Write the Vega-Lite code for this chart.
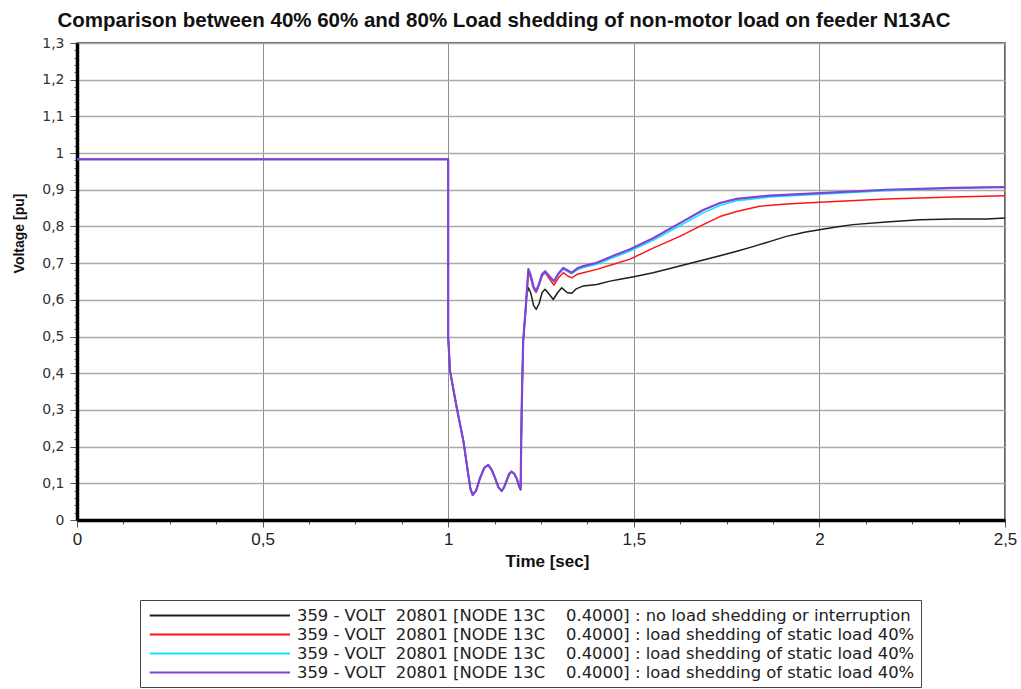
{
  "$schema": "https://vega.github.io/schema/vega-lite/v6.json",
  "autosize": {"type": "none"},
  "padding": {"left": 77, "top": 43, "right": 16, "bottom": 169},
  "width": 928,
  "height": 477,
  "background": "white",
  "title": {
    "text": "Comparison between 40% 60% and 80% Load shedding of non-motor load on feeder N13AC",
    "font": "Liberation Sans",
    "fontSize": 20.5,
    "fontWeight": "bold",
    "color": "#111",
    "anchor": "middle",
    "dx": -37,
    "dy": 27,
    "baseline": "alphabetic",
    "offset": 16
  },
  "config": {
    "view": {"stroke": "#333", "strokeWidth": 1.5},
    "font": "Liberation Sans"
  },
  "data": {
    "values": [
      {"s": "a", "t": 0, "v": 0.983}, {"s": "a", "t": 1.0, "v": 0.983}, {"s": "a", "t": 1.0, "v": 0.497},
      {"s": "a", "t": 1.005, "v": 0.406}, {"s": "a", "t": 1.023, "v": 0.306}, {"s": "a", "t": 1.041, "v": 0.215},
      {"s": "a", "t": 1.054, "v": 0.124}, {"s": "a", "t": 1.06, "v": 0.085}, {"s": "a", "t": 1.066, "v": 0.068},
      {"s": "a", "t": 1.075, "v": 0.08}, {"s": "a", "t": 1.086, "v": 0.115}, {"s": "a", "t": 1.097, "v": 0.142},
      {"s": "a", "t": 1.108, "v": 0.15}, {"s": "a", "t": 1.118, "v": 0.135}, {"s": "a", "t": 1.126, "v": 0.115},
      {"s": "a", "t": 1.135, "v": 0.09}, {"s": "a", "t": 1.144, "v": 0.079}, {"s": "a", "t": 1.151, "v": 0.09},
      {"s": "a", "t": 1.157, "v": 0.106}, {"s": "a", "t": 1.164, "v": 0.125}, {"s": "a", "t": 1.171, "v": 0.132},
      {"s": "a", "t": 1.178, "v": 0.126}, {"s": "a", "t": 1.185, "v": 0.112}, {"s": "a", "t": 1.191, "v": 0.092},
      {"s": "a", "t": 1.195, "v": 0.083}, {"s": "a", "t": 1.198, "v": 0.306}, {"s": "a", "t": 1.202, "v": 0.488},
      {"s": "a", "t": 1.209, "v": 0.579}, {"s": "a", "t": 1.211, "v": 0.61},
      {"s": "a", "t": 1.216, "v": 0.633}, {"s": "a", "t": 1.222, "v": 0.62}, {"s": "a", "t": 1.23, "v": 0.585},
      {"s": "a", "t": 1.237, "v": 0.574}, {"s": "a", "t": 1.245, "v": 0.59}, {"s": "a", "t": 1.253, "v": 0.62},
      {"s": "a", "t": 1.261, "v": 0.629}, {"s": "a", "t": 1.27, "v": 0.618}, {"s": "a", "t": 1.283, "v": 0.601},
      {"s": "a", "t": 1.295, "v": 0.62}, {"s": "a", "t": 1.306, "v": 0.633}, {"s": "a", "t": 1.32, "v": 0.62},
      {"s": "a", "t": 1.333, "v": 0.618}, {"s": "a", "t": 1.345, "v": 0.63}, {"s": "a", "t": 1.364, "v": 0.638},
      {"s": "a", "t": 1.4, "v": 0.642}, {"s": "a", "t": 1.436, "v": 0.651}, {"s": "a", "t": 1.463, "v": 0.656},
      {"s": "a", "t": 1.5, "v": 0.663}, {"s": "a", "t": 1.552, "v": 0.674}, {"s": "a", "t": 1.6, "v": 0.686},
      {"s": "a", "t": 1.642, "v": 0.697}, {"s": "a", "t": 1.69, "v": 0.709}, {"s": "a", "t": 1.732, "v": 0.72},
      {"s": "a", "t": 1.78, "v": 0.733}, {"s": "a", "t": 1.821, "v": 0.745}, {"s": "a", "t": 1.87, "v": 0.76},
      {"s": "a", "t": 1.911, "v": 0.773}, {"s": "a", "t": 1.96, "v": 0.784}, {"s": "a", "t": 2.0, "v": 0.791},
      {"s": "a", "t": 2.05, "v": 0.799}, {"s": "a", "t": 2.09, "v": 0.805}, {"s": "a", "t": 2.18, "v": 0.812},
      {"s": "a", "t": 2.27, "v": 0.818}, {"s": "a", "t": 2.36, "v": 0.82}, {"s": "a", "t": 2.45, "v": 0.82},
      {"s": "a", "t": 2.5, "v": 0.823},

      {"s": "b", "t": 0, "v": 0.983}, {"s": "b", "t": 1.0, "v": 0.983}, {"s": "b", "t": 1.0, "v": 0.497},
      {"s": "b", "t": 1.005, "v": 0.406}, {"s": "b", "t": 1.023, "v": 0.306}, {"s": "b", "t": 1.041, "v": 0.215},
      {"s": "b", "t": 1.054, "v": 0.124}, {"s": "b", "t": 1.06, "v": 0.085}, {"s": "b", "t": 1.066, "v": 0.068},
      {"s": "b", "t": 1.075, "v": 0.08}, {"s": "b", "t": 1.086, "v": 0.115}, {"s": "b", "t": 1.097, "v": 0.142},
      {"s": "b", "t": 1.108, "v": 0.15}, {"s": "b", "t": 1.118, "v": 0.135}, {"s": "b", "t": 1.126, "v": 0.115},
      {"s": "b", "t": 1.135, "v": 0.09}, {"s": "b", "t": 1.144, "v": 0.079}, {"s": "b", "t": 1.151, "v": 0.09},
      {"s": "b", "t": 1.157, "v": 0.106}, {"s": "b", "t": 1.164, "v": 0.125}, {"s": "b", "t": 1.171, "v": 0.132},
      {"s": "b", "t": 1.178, "v": 0.126}, {"s": "b", "t": 1.185, "v": 0.112}, {"s": "b", "t": 1.191, "v": 0.092},
      {"s": "b", "t": 1.195, "v": 0.083}, {"s": "b", "t": 1.198, "v": 0.306}, {"s": "b", "t": 1.202, "v": 0.488},
      {"s": "b", "t": 1.209, "v": 0.579}, {"s": "b", "t": 1.211, "v": 0.61},
      {"s": "b", "t": 1.216, "v": 0.676}, {"s": "b", "t": 1.222, "v": 0.66}, {"s": "b", "t": 1.23, "v": 0.63},
      {"s": "b", "t": 1.237, "v": 0.62}, {"s": "b", "t": 1.245, "v": 0.64}, {"s": "b", "t": 1.253, "v": 0.665},
      {"s": "b", "t": 1.261, "v": 0.674}, {"s": "b", "t": 1.272, "v": 0.658}, {"s": "b", "t": 1.285, "v": 0.64},
      {"s": "b", "t": 1.297, "v": 0.66}, {"s": "b", "t": 1.31, "v": 0.674}, {"s": "b", "t": 1.322, "v": 0.665},
      {"s": "b", "t": 1.333, "v": 0.66}, {"s": "b", "t": 1.348, "v": 0.67}, {"s": "b", "t": 1.364, "v": 0.674},
      {"s": "b", "t": 1.4, "v": 0.683}, {"s": "b", "t": 1.445, "v": 0.697}, {"s": "b", "t": 1.49, "v": 0.711},
      {"s": "b", "t": 1.552, "v": 0.741}, {"s": "b", "t": 1.624, "v": 0.773}, {"s": "b", "t": 1.687, "v": 0.805},
      {"s": "b", "t": 1.732, "v": 0.827}, {"s": "b", "t": 1.777, "v": 0.841}, {"s": "b", "t": 1.839, "v": 0.855},
      {"s": "b", "t": 1.911, "v": 0.861}, {"s": "b", "t": 2.0, "v": 0.866}, {"s": "b", "t": 2.18, "v": 0.875},
      {"s": "b", "t": 2.36, "v": 0.88}, {"s": "b", "t": 2.5, "v": 0.884},

      {"s": "c", "t": 0, "v": 0.983}, {"s": "c", "t": 1.0, "v": 0.983}, {"s": "c", "t": 1.0, "v": 0.497},
      {"s": "c", "t": 1.005, "v": 0.406}, {"s": "c", "t": 1.023, "v": 0.306}, {"s": "c", "t": 1.041, "v": 0.215},
      {"s": "c", "t": 1.054, "v": 0.124}, {"s": "c", "t": 1.06, "v": 0.085}, {"s": "c", "t": 1.066, "v": 0.068},
      {"s": "c", "t": 1.075, "v": 0.08}, {"s": "c", "t": 1.086, "v": 0.115}, {"s": "c", "t": 1.097, "v": 0.142},
      {"s": "c", "t": 1.108, "v": 0.15}, {"s": "c", "t": 1.118, "v": 0.135}, {"s": "c", "t": 1.126, "v": 0.115},
      {"s": "c", "t": 1.135, "v": 0.09}, {"s": "c", "t": 1.144, "v": 0.079}, {"s": "c", "t": 1.151, "v": 0.09},
      {"s": "c", "t": 1.157, "v": 0.106}, {"s": "c", "t": 1.164, "v": 0.125}, {"s": "c", "t": 1.171, "v": 0.132},
      {"s": "c", "t": 1.178, "v": 0.126}, {"s": "c", "t": 1.185, "v": 0.112}, {"s": "c", "t": 1.191, "v": 0.092},
      {"s": "c", "t": 1.195, "v": 0.083}, {"s": "c", "t": 1.198, "v": 0.306}, {"s": "c", "t": 1.202, "v": 0.488},
      {"s": "c", "t": 1.209, "v": 0.579}, {"s": "c", "t": 1.211, "v": 0.61},
      {"s": "c", "t": 1.216, "v": 0.682}, {"s": "c", "t": 1.222, "v": 0.666}, {"s": "c", "t": 1.23, "v": 0.633},
      {"s": "c", "t": 1.237, "v": 0.622}, {"s": "c", "t": 1.245, "v": 0.643}, {"s": "c", "t": 1.253, "v": 0.668},
      {"s": "c", "t": 1.261, "v": 0.676}, {"s": "c", "t": 1.272, "v": 0.663}, {"s": "c", "t": 1.285, "v": 0.649},
      {"s": "c", "t": 1.297, "v": 0.669}, {"s": "c", "t": 1.31, "v": 0.684}, {"s": "c", "t": 1.322, "v": 0.677},
      {"s": "c", "t": 1.333, "v": 0.671}, {"s": "c", "t": 1.348, "v": 0.682}, {"s": "c", "t": 1.364, "v": 0.688},
      {"s": "c", "t": 1.4, "v": 0.697}, {"s": "c", "t": 1.445, "v": 0.715}, {"s": "c", "t": 1.49, "v": 0.733},
      {"s": "c", "t": 1.552, "v": 0.762}, {"s": "c", "t": 1.624, "v": 0.802}, {"s": "c", "t": 1.687, "v": 0.837},
      {"s": "c", "t": 1.732, "v": 0.857}, {"s": "c", "t": 1.777, "v": 0.87}, {"s": "c", "t": 1.866, "v": 0.88},
      {"s": "c", "t": 2.0, "v": 0.888}, {"s": "c", "t": 2.18, "v": 0.897}, {"s": "c", "t": 2.36, "v": 0.904},
      {"s": "c", "t": 2.5, "v": 0.908},

      {"s": "d", "t": 0, "v": 0.983}, {"s": "d", "t": 1.0, "v": 0.983}, {"s": "d", "t": 1.0, "v": 0.497},
      {"s": "d", "t": 1.005, "v": 0.406}, {"s": "d", "t": 1.023, "v": 0.306}, {"s": "d", "t": 1.041, "v": 0.215},
      {"s": "d", "t": 1.054, "v": 0.124}, {"s": "d", "t": 1.06, "v": 0.085}, {"s": "d", "t": 1.066, "v": 0.068},
      {"s": "d", "t": 1.075, "v": 0.08}, {"s": "d", "t": 1.086, "v": 0.115}, {"s": "d", "t": 1.097, "v": 0.142},
      {"s": "d", "t": 1.108, "v": 0.15}, {"s": "d", "t": 1.118, "v": 0.135}, {"s": "d", "t": 1.126, "v": 0.115},
      {"s": "d", "t": 1.135, "v": 0.09}, {"s": "d", "t": 1.144, "v": 0.079}, {"s": "d", "t": 1.151, "v": 0.09},
      {"s": "d", "t": 1.157, "v": 0.106}, {"s": "d", "t": 1.164, "v": 0.125}, {"s": "d", "t": 1.171, "v": 0.132},
      {"s": "d", "t": 1.178, "v": 0.126}, {"s": "d", "t": 1.185, "v": 0.112}, {"s": "d", "t": 1.191, "v": 0.092},
      {"s": "d", "t": 1.195, "v": 0.083}, {"s": "d", "t": 1.198, "v": 0.306}, {"s": "d", "t": 1.202, "v": 0.488},
      {"s": "d", "t": 1.209, "v": 0.579}, {"s": "d", "t": 1.211, "v": 0.61},
      {"s": "d", "t": 1.216, "v": 0.684}, {"s": "d", "t": 1.222, "v": 0.668}, {"s": "d", "t": 1.23, "v": 0.635},
      {"s": "d", "t": 1.237, "v": 0.624}, {"s": "d", "t": 1.245, "v": 0.645}, {"s": "d", "t": 1.253, "v": 0.67},
      {"s": "d", "t": 1.261, "v": 0.678}, {"s": "d", "t": 1.272, "v": 0.665}, {"s": "d", "t": 1.285, "v": 0.651},
      {"s": "d", "t": 1.297, "v": 0.672}, {"s": "d", "t": 1.31, "v": 0.687}, {"s": "d", "t": 1.322, "v": 0.68},
      {"s": "d", "t": 1.333, "v": 0.674}, {"s": "d", "t": 1.348, "v": 0.686}, {"s": "d", "t": 1.364, "v": 0.692},
      {"s": "d", "t": 1.4, "v": 0.701}, {"s": "d", "t": 1.445, "v": 0.72}, {"s": "d", "t": 1.49, "v": 0.738},
      {"s": "d", "t": 1.552, "v": 0.768}, {"s": "d", "t": 1.624, "v": 0.809}, {"s": "d", "t": 1.687, "v": 0.845},
      {"s": "d", "t": 1.732, "v": 0.864}, {"s": "d", "t": 1.777, "v": 0.875}, {"s": "d", "t": 1.866, "v": 0.884},
      {"s": "d", "t": 2.0, "v": 0.891}, {"s": "d", "t": 2.18, "v": 0.9}, {"s": "d", "t": 2.36, "v": 0.905},
      {"s": "d", "t": 2.5, "v": 0.907}
    ]
  },
  "mark": {"type": "line", "strokeJoin": "round"},
  "encoding": {
    "x": {
      "field": "t",
      "type": "quantitative",
      "scale": {"domain": [0, 2.5], "nice": false, "zero": false},
      "axis": {
        "title": "Time [sec]",
        "titleFont": "Liberation Sans",
        "titleFontSize": 17,
        "titleFontWeight": "bold",
        "titleColor": "#111",
        "titleX": 470,
        "titleY": 41,
        "titleBaseline": "middle",
        "titleAlign": "center",
        "values": [0, 0.125, 0.25, 0.375, 0.5, 0.625, 0.75, 0.875, 1, 1.125, 1.25, 1.375, 1.5, 1.625, 1.75, 1.875, 2, 2.125, 2.25, 2.375, 2.5],
        "labelExpr": "abs(datum.value * 2 - round(datum.value * 2)) < 0.001 ? replace(format(datum.value, '~g'), '.', ',') : ''",
        "labelOverlap": false,
        "labelFont": "Liberation Sans",
        "labelFontSize": 17,
        "labelColor": "#222",
        "labelPadding": 4,
        "labelFlush": false,
        "domainColor": "#000",
        "domainWidth": 3.5,
        "tickColor": "#555",
        "tickSize": {"condition": {"test": "abs(datum.value * 2 - round(datum.value * 2)) < 0.001", "value": 7}, "value": 4},
        "grid": true,
        "gridColor": "#8f8f8f",
        "gridWidth": 1,
        "gridOpacity": {"condition": {"test": "abs(datum.value * 2 - round(datum.value * 2)) < 0.001", "value": 1}, "value": 0}
      }
    },
    "y": {
      "field": "v",
      "type": "quantitative",
      "scale": {"domain": [0, 1.3], "nice": false, "zero": false},
      "axis": {
        "title": "Voltage [pu]",
        "titleFont": "Liberation Sans",
        "titleFontSize": 14,
        "titleFontWeight": "bold",
        "titleColor": "#111",
        "titleX": -58,
        "titleY": 190,
        "titleBaseline": "middle",
        "titleAlign": "center",
        "values": [0, 0.02, 0.04, 0.06, 0.08, 0.1, 0.12, 0.14, 0.16, 0.18, 0.2, 0.22, 0.24, 0.26, 0.28, 0.3, 0.32, 0.34, 0.36, 0.38, 0.4, 0.42, 0.44, 0.46, 0.48, 0.5, 0.52, 0.54, 0.56, 0.58, 0.6, 0.62, 0.64, 0.66, 0.68, 0.7, 0.72, 0.74, 0.76, 0.78, 0.8, 0.82, 0.84, 0.86, 0.88, 0.9, 0.92, 0.94, 0.96, 0.98, 1, 1.02, 1.04, 1.06, 1.08, 1.1, 1.12, 1.14, 1.16, 1.18, 1.2, 1.22, 1.24, 1.26, 1.28, 1.3],
        "labelExpr": "abs(datum.value * 10 - round(datum.value * 10)) < 0.001 ? replace(format(datum.value, '~g'), '.', ',') : ''",
        "labelOverlap": false,
        "labelFont": "DejaVu Sans",
        "labelFontSize": 14,
        "labelColor": "#333",
        "labelPadding": 6,
        "labelFlush": false,
        "domainColor": "#000",
        "domainWidth": 3.5,
        "tickColor": "#555",
        "tickSize": {"condition": {"test": "abs(datum.value * 10 - round(datum.value * 10)) < 0.001", "value": 7}, "value": 3},
        "grid": true,
        "gridColor": "#a6aba6",
        "gridWidth": 1.5,
        "gridOpacity": {"condition": {"test": "abs(datum.value * 10 - round(datum.value * 10)) < 0.001", "value": 1}, "value": 0}
      }
    },
    "color": {
      "field": "s",
      "type": "nominal",
      "scale": {"domain": ["a", "b", "c", "d"], "range": ["#1e1e1e", "#ff1414", "#12e4ff", "#7f44d8"]},
      "legend": {
        "orient": "none",
        "legendX": 63,
        "legendY": 557,
        "direction": "vertical",
        "title": null,
        "symbolType": "M-15.5,0H1",
        "symbolSize": 289,
        "symbolOffset": 126,
        "symbolStrokeWidth": 2,
        "labelFont": "DejaVu Sans",
        "labelFontSize": 16.4,
        "labelColor": "#222",
        "labelLimit": 900,
        "labelOffset": 6,
        "rowPadding": 1,
        "padding": 6,
        "strokeColor": "#444",
        "fillColor": "white",
        "labelExpr": "datum.value == 'a' ? '359 - VOLT\u00a0\u00a020801 [NODE 13C\u00a0\u00a0\u00a0\u00a00.4000] : no load shedding or interruption' : '359 - VOLT\u00a0\u00a020801 [NODE 13C\u00a0\u00a0\u00a0\u00a00.4000] : load shedding of static load 40%'"
      }
    },
    "strokeWidth": {
      "condition": {"test": "datum.s == 'd'", "value": 2.2},
      "value": 1.5
    }
  }
}
